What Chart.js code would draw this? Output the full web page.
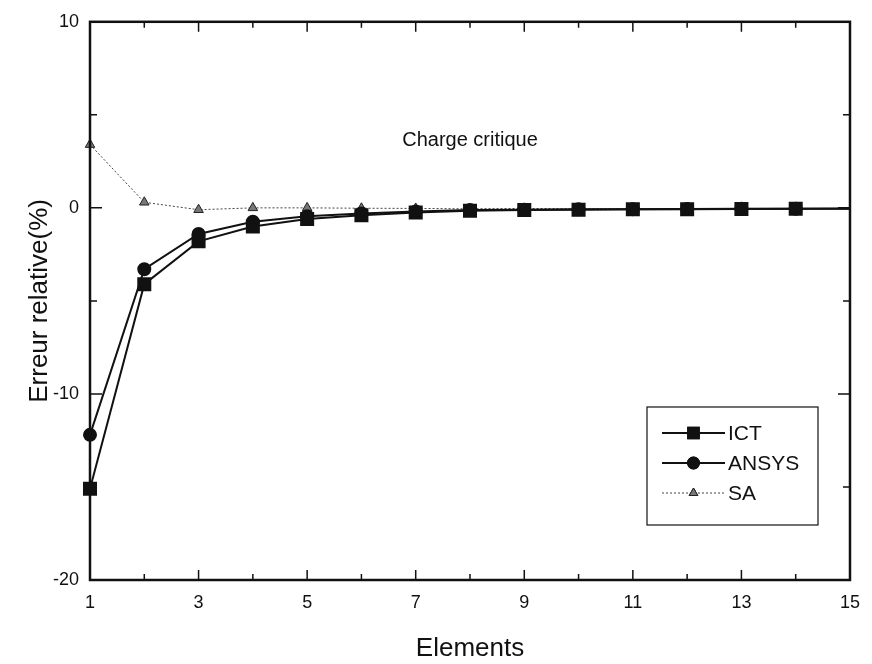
<!DOCTYPE html>
<html>
<head>
<meta charset="utf-8">
<script src="https://cdn.jsdelivr.net/npm/chart.js@4.4.1/dist/chart.umd.min.js"></script>
<style>
  html, body { margin: 0; padding: 0; background: #fff; }
  #wrap { width: 872px; height: 664px; }
</style>
</head>
<body>
<div id="wrap"><canvas id="chart" width="872" height="664"></canvas></div>
<script>
// number of elements (x) and relative error in % for each method
const elements = [1, 2, 3, 4, 5, 6, 7, 8, 9, 10, 11, 12, 13, 14, 15];
const ict   = [-15.1, -4.1, -1.8, -1.0, -0.6, -0.4, -0.25, -0.15, -0.12, -0.1, -0.08, -0.07, -0.06, -0.05, -0.05];
const ansys = [-12.2, -3.3, -1.4, -0.75, -0.45, -0.3, -0.2, -0.12, -0.1, -0.08, -0.07, -0.06, -0.05, -0.05, -0.04];
const sa    = [3.4, 0.3, -0.1, 0.0, 0.0, -0.02, -0.03, -0.05, -0.03, -0.05, -0.05, -0.05, -0.05, -0.05, -0.05];

const xTickLabels = [1, 3, 5, 7, 9, 11, 13, 15];
const yTickLabels = [-20, -10, 0, 10];

const FONT = '"Liberation Sans", Arial, Helvetica, sans-serif';
const INK = '#111';

const toPoints = vals => vals.map((v, i) => ({ x: elements[i], y: v }));
// last point sits on the right frame, no marker drawn there
const radii = r => elements.map((e, i) => (i === elements.length - 1 ? 0 : r));

// inward ticks on all four sides, frame, plot note and legend
const framePlugin = {
  id: 'frame',
  afterDraw(chart) {
    const { ctx, chartArea: a, scales: { x, y } } = chart;
    ctx.save();
    ctx.strokeStyle = INK;

    ctx.lineWidth = 1.5;
    ctx.beginPath();
    for (let v = 1; v <= 15; v++) {
      const px = x.getPixelForValue(v);
      const len = v % 2 === 1 ? 10 : 6;
      ctx.moveTo(px, a.bottom); ctx.lineTo(px, a.bottom - len);
      ctx.moveTo(px, a.top); ctx.lineTo(px, a.top + len);
    }
    for (let v = -20; v <= 10; v += 5) {
      const py = y.getPixelForValue(v);
      const len = v % 10 === 0 ? 12 : 7;
      ctx.moveTo(a.left, py); ctx.lineTo(a.left + len, py);
      ctx.moveTo(a.right, py); ctx.lineTo(a.right - len, py);
    }
    ctx.stroke();

    ctx.lineWidth = 2.5;
    ctx.strokeRect(a.left, a.top, a.right - a.left, a.bottom - a.top);

    // note inside the plot
    ctx.fillStyle = INK;
    ctx.font = '20px ' + FONT;
    ctx.textAlign = 'center';
    ctx.textBaseline = 'middle';
    ctx.fillText('Charge critique', 470, 140);

    // legend box
    const bx = 647, by = 407, bw = 171, bh = 118;
    ctx.lineWidth = 1.2;
    ctx.strokeRect(bx, by, bw, bh);
    ctx.textAlign = 'left';
    ctx.font = '21px ' + FONT;
    chart.data.datasets.forEach((ds, i) => {
      const ly = by + 26 + i * 30;
      const x0 = bx + 15, x1 = bx + 78, xm = (x0 + x1) / 2;
      ctx.strokeStyle = ds.borderColor;
      ctx.lineWidth = ds.borderWidth;
      ctx.setLineDash(ds.borderDash || []);
      ctx.beginPath();
      ctx.moveTo(x0, ly); ctx.lineTo(x1, ly);
      ctx.stroke();
      ctx.setLineDash([]);
      Chart.helpers.drawPoint(ctx, {
        pointStyle: ds.pointStyle,
        radius: ds.legendRadius,
        borderWidth: 1
      }, xm, ly);
      ctx.fillStyle = ds.pointBackgroundColor;
      ctx.strokeStyle = ds.pointBorderColor;
      ctx.fill();
      ctx.stroke();
      ctx.fillStyle = INK;
      ctx.fillText(ds.label, x1 + 3, ly + 1);
    });
    ctx.restore();
  }
};

new Chart(document.getElementById('chart'), {
  type: 'line',
  data: {
    datasets: [
      {
        label: 'ICT',
        data: toPoints(ict),
        borderColor: INK,
        borderWidth: 2,
        pointStyle: 'rect',
        pointRadius: radii(8.5),
        legendRadius: 7.5,
        pointBackgroundColor: INK,
        pointBorderColor: INK,
        tension: 0
      },
      {
        label: 'ANSYS',
        data: toPoints(ansys),
        borderColor: INK,
        borderWidth: 2,
        pointStyle: 'circle',
        pointRadius: radii(6),
        legendRadius: 5.5,
        pointBackgroundColor: INK,
        pointBorderColor: INK,
        tension: 0
      },
      {
        label: 'SA',
        data: toPoints(sa),
        borderColor: '#444',
        borderWidth: 1,
        borderDash: [2, 2],
        pointStyle: 'triangle',
        pointRadius: radii(5.5),
        legendRadius: 5,
        pointBackgroundColor: '#777',
        pointBorderColor: '#222',
        pointBorderWidth: 1,
        tension: 0
      }
    ]
  },
  options: {
    responsive: false,
    animation: false,
    clip: false,
    layout: { padding: { top: 18, right: 17, bottom: 0, left: 0 } },
    plugins: {
      legend: { display: false },
      tooltip: { enabled: false }
    },
    scales: {
      x: {
        type: 'linear',
        min: 1,
        max: 15,
        afterFit: s => { s.height = 84; },
        afterBuildTicks: s => { s.ticks = xTickLabels.map(v => ({ value: v })); },
        grid: { display: false, drawTicks: false },
        border: { display: false },
        ticks: {
          color: INK,
          font: { family: FONT, size: 18 },
          padding: 12,
          maxRotation: 0,
          autoSkip: false
        },
        title: {
          display: true,
          text: 'Elements',
          color: INK,
          font: { family: FONT, size: 26 },
          padding: { top: 0, bottom: 0 }
        }
      },
      y: {
        min: -20,
        max: 10,
        afterFit: s => { s.width = 90; },
        afterBuildTicks: s => { s.ticks = yTickLabels.map(v => ({ value: v })); },
        grid: { display: false, drawTicks: false },
        border: { display: false },
        ticks: {
          color: INK,
          font: { family: FONT, size: 18 },
          padding: 11
        },
        title: {
          display: true,
          text: 'Erreur relative(%)',
          color: INK,
          font: { family: FONT, size: 26 },
          padding: { top: 24, bottom: 0 }
        }
      }
    }
  },
  plugins: [framePlugin]
});
</script>
</body>
</html>
